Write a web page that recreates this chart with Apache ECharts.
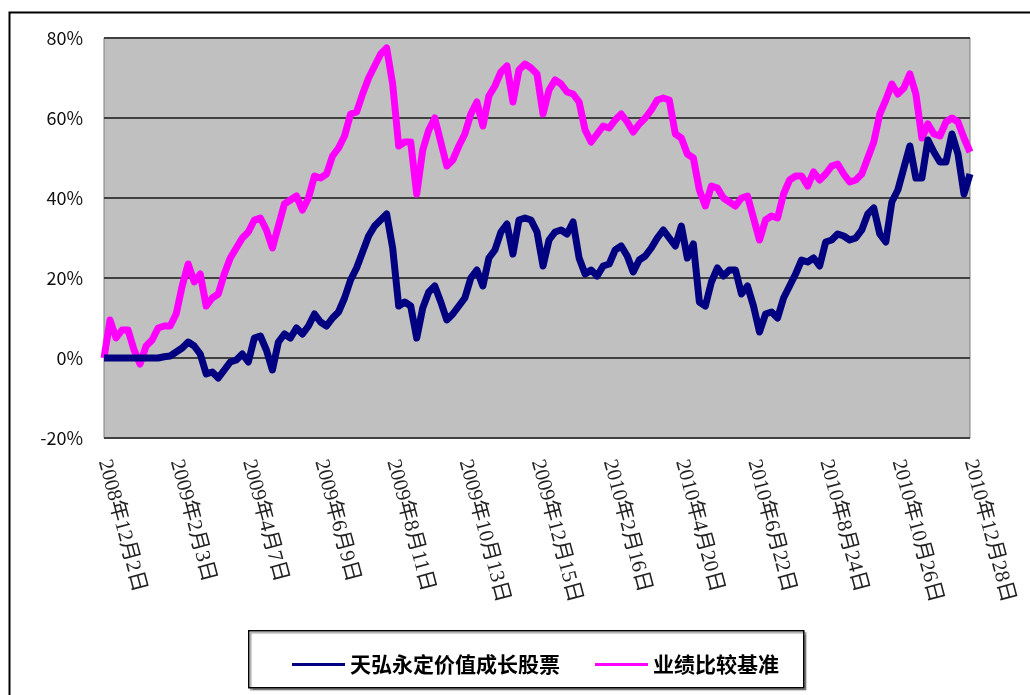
<!DOCTYPE html>
<html>
<head>
<meta charset="utf-8">
<script src="https://cdn.jsdelivr.net/npm/echarts@6/dist/echarts.min.js"></script>
<style>
html,body{margin:0;padding:0;background:#fff;}
#chart{width:1030px;height:695px;}
</style>
</head>
<body>
<div id="chart"></div>
<script>
// Tick labels (every 12th sample point, ~63 days apart)
const tickLabels = [
  "2008年12月2日","2009年2月3日","2009年4月7日","2009年6月9日","2009年8月11日",
  "2009年10月13日","2009年12月15日","2010年2月16日","2010年4月20日","2010年6月22日",
  "2010年8月24日","2010年10月26日","2010年12月28日"
];
const pointsPerTick = 12;

// 天弘永定价值成长股票 (%)
const fundValues = [
  0,0,0,0,0,0,0,0,0,0,0.3,0.5,
  1.5,2.5,4,3,1,-4,-3.5,-5,-3,-1,-0.5,1,
  -1,5,5.5,2,-3,4,6,5,7.5,6,8,11,
  9,8,10,11.5,15,19.5,22.5,26.5,30.5,33,34.5,36,
  27.5,13,14,13,5,12.5,16.5,18,14,9.5,11,13,
  15,20,22,18,25,27,31.5,33.5,26,34.5,35,34.5,
  31.5,23,29.5,31.5,32,31,34,25,21,22,20.5,23,
  23.5,27,28,25.5,21.5,24.5,25.5,27.5,30,32,30,28,
  33,25,28.5,14,13,19,22.5,20.5,22,22,16,18,
  13,6.5,11,11.5,10,15,18,21,24.5,24,25,23,
  29,29.5,31,30.5,29.5,30,32,36,37.5,31,29,39,
  42,47.5,53,45,45,54.5,51.5,49,49,56,51,41,
  46
];

// 业绩比较基准 (%)
const benchValues = [
  0,9.5,5,7,7,2,-1.5,3,4.5,7.5,8,8,
  11,18,23.5,19,21,13,15,16,21,25,27.5,30,
  31.5,34.5,35,32,27.5,33,38.5,39.5,40.5,37,40,45.5,
  45,46,50.5,52.5,55.5,61,61.5,66,70,73,76,77.5,
  68.5,53,54,54,41,52,57,60,54,48,49.5,53,
  56,61,64,58,65.5,68,71.5,73,64,72,73.5,72.5,
  71,61,67,69.5,68.5,66.5,66,64,57,54,56,58,
  57.5,59.5,61,59,56.5,58.5,60,62,64.5,65,64.5,56,
  55,51,50,42,38,43,42.5,40,39,38,40,40.5,
  35,29.5,34.5,35.5,35,41,44.5,45.5,45.5,43,46.5,44.5,
  46,48,48.5,46,44,44.5,46,50,54,61,64.5,68.5,
  66,67.5,71,66,55,58.5,56,55.5,59,60,59,55,
  51.5
];

const seriesNames = ["天弘永定价值成长股票","业绩比较基准"];

const categories = fundValues.map((v, i) => String(i));

const chart = echarts.init(document.getElementById('chart'), null, {renderer:'canvas'});
chart.setOption({
  backgroundColor: '#ffffff',
  animation: false,
  graphic: [
    {type:'rect', left:7, top:10, shape:{x:0,y:0,width:1040,height:700},
     style:{fill:'none', stroke:'#000', lineWidth:2}, silent:true},
    {type:'rect', left:248, top:630, shape:{x:0,y:0,width:555,height:57},
     style:{fill:'#fff', stroke:'#000', lineWidth:1.5, shadowColor:'rgba(0,0,0,0.35)', shadowOffsetX:2, shadowOffsetY:2, shadowBlur:1}, z:0, silent:true}
  ],
  grid: {
    left:104, right:60, top:38, bottom:257,
    show:true, backgroundColor:'#C0C0C0', borderColor:'#808080', borderWidth:1,
    containLabel:false
  },
  legend: {
    data: seriesNames,
    left: 287, top: 649,
    itemWidth: 53, itemHeight: 3, itemGap: 35,
    icon: 'rect',
    textStyle: {fontFamily:'"Noto Sans CJK SC", sans-serif', fontSize:21, fontWeight:'bold', color:'#000'},
    z: 5
  },
  xAxis: {
    type:'category', data:categories, boundaryGap:false,
    axisLine:{show:false}, axisTick:{show:false},
    axisLabel:{
      interval: pointsPerTick - 1,
      rotate: -75, margin: 22,
      fontFamily:'"Liberation Serif", "Noto Sans CJK SC", serif', fontSize:21, color:'#222',
      formatter:(v, idx) => tickLabels[Math.round(idx / pointsPerTick)] || ''
    },
    splitLine:{show:false}
  },
  yAxis: {
    type:'value', min:-20, max:80, interval:20,
    axisLine:{show:false}, axisTick:{show:false},
    axisLabel:{formatter:'{value}%', margin:21, fontFamily:'"Noto Sans CJK JP", sans-serif', fontSize:18, color:'#111'},
    splitLine:{show:true, lineStyle:{color:'#404040', width:2}}
  },
  series: [
    {name:seriesNames[0], type:'line', data:fundValues, showSymbol:false, symbol:'none',
     lineStyle:{color:'#000080', width:7, join:'round'}, itemStyle:{color:'#000080'}, z:3},
    {name:seriesNames[1], type:'line', data:benchValues, showSymbol:false, symbol:'none',
     lineStyle:{color:'#FF00FF', width:7, join:'round'}, itemStyle:{color:'#FF00FF'}, z:2}
  ]
});
</script>
</body>
</html>
